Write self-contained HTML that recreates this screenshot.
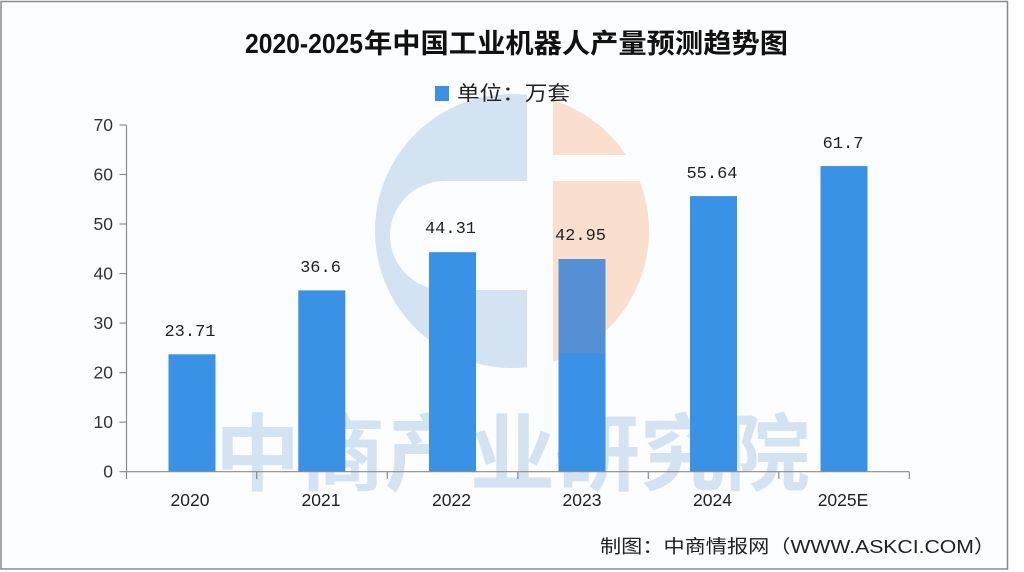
<!DOCTYPE html>
<html>
<head>
<meta charset="utf-8">
<style>
html,body{margin:0;padding:0;background:#ffffff;}
svg{display:block;}
</style>
</head>
<body>
<svg width="1024" height="572" viewBox="0 0 1024 572" xmlns="http://www.w3.org/2000/svg">
  <defs>
    <clipPath id="cBlue"><rect x="300" y="80" width="227" height="320"/></clipPath>
    <clipPath id="cOrange"><rect x="553" y="80" width="200" height="320"/></clipPath>
  </defs>
  <!-- background + frame -->
  <rect x="0" y="0" width="1024" height="572" fill="#ffffff"/>
  <rect x="1" y="1.5" width="1006.5" height="567.5" fill="#fcfdfe" stroke="#8a8a8a" stroke-width="1.5"/>

  <!-- logo watermark -->
  <g clip-path="url(#cBlue)">
    <circle cx="512" cy="231" r="137" fill="#d3e3f1"/>
  </g>
  <path d="M527,181 H445 A55,54.5 0 0 0 445,290 H527 Z" fill="#fcfdfe"/>
  <g clip-path="url(#cOrange)">
    <circle cx="512" cy="231" r="137" fill="#fadfcf"/>
  </g>
  <rect x="553" y="155" width="110" height="26" fill="#fcfdfe"/>

  <!-- text watermark -->
  <text x="215" y="484" font-family="'Liberation Sans','Noto Sans CJK SC',sans-serif" font-size="84" font-weight="700" fill="#d3e3f1" textLength="595" lengthAdjust="spacingAndGlyphs">中商产业研究院</text>

  <!-- title -->
  <text x="245" y="53" font-family="'Liberation Sans',sans-serif" font-size="28" font-weight="700" fill="#111" textLength="118" lengthAdjust="spacingAndGlyphs">2020-2025</text>
  <text x="364" y="53" font-family="'Liberation Sans','Noto Sans CJK SC',sans-serif" font-size="27" font-weight="700" fill="#111" textLength="424" lengthAdjust="spacingAndGlyphs">年中国工业机器人产量预测趋势图</text>

  <!-- legend -->
  <rect x="435" y="86" width="14" height="15" fill="#3a92e6"/>
  <text x="457" y="100" font-family="'Liberation Sans','Noto Sans CJK SC',sans-serif" font-size="20" fill="#222" textLength="113" lengthAdjust="spacingAndGlyphs">单位：万套</text>

  <!-- y axis -->
  <g stroke="#8c8c8c" stroke-width="1.2" fill="none">
    <line x1="126.5" y1="125" x2="126.5" y2="472"/>
    <line x1="119.5" y1="125" x2="126.5" y2="125"/>
    <line x1="119.5" y1="174.5" x2="126.5" y2="174.5"/>
    <line x1="119.5" y1="224" x2="126.5" y2="224"/>
    <line x1="119.5" y1="273.6" x2="126.5" y2="273.6"/>
    <line x1="119.5" y1="323.1" x2="126.5" y2="323.1"/>
    <line x1="119.5" y1="372.6" x2="126.5" y2="372.6"/>
    <line x1="119.5" y1="422.2" x2="126.5" y2="422.2"/>
    <line x1="119.5" y1="471.7" x2="126.5" y2="471.7"/>
  </g>
  <g font-family="'Liberation Sans',sans-serif" font-size="17.5" fill="#333" text-anchor="end">
    <text x="113" y="131">70</text>
    <text x="113" y="180.5">60</text>
    <text x="113" y="230">50</text>
    <text x="113" y="279.6">40</text>
    <text x="113" y="329.1">30</text>
    <text x="113" y="378.6">20</text>
    <text x="113" y="428.2">10</text>
    <text x="113" y="477.7">0</text>
  </g>

  <!-- bars -->
  <g fill="#3a92e6">
    <rect x="168.5" y="354.3" width="47" height="117.4"/>
    <rect x="298.3" y="290.4" width="47" height="181.3"/>
    <rect x="429" y="252.2" width="47" height="219.5"/>
    <rect x="558.5" y="259" width="47" height="212.7"/>
    <rect x="690" y="196.1" width="47" height="275.6"/>
    <rect x="820.5" y="166.1" width="47" height="305.6"/>
  </g>
  <!-- orange-tinted part of 2023 bar -->
  <rect x="558.5" y="259" width="47" height="94" fill="#5590d4"/>

  <!-- x axis -->
  <g stroke="#8c8c8c" stroke-width="1.2" fill="none">
    <line x1="126" y1="471.7" x2="909.3" y2="471.7"/>
    <line x1="126.5" y1="471.7" x2="126.5" y2="479"/>
    <line x1="256.7" y1="471.7" x2="256.7" y2="479"/>
    <line x1="387.3" y1="471.7" x2="387.3" y2="479"/>
    <line x1="517.8" y1="471.7" x2="517.8" y2="479"/>
    <line x1="648.3" y1="471.7" x2="648.3" y2="479"/>
    <line x1="778.8" y1="471.7" x2="778.8" y2="479"/>
    <line x1="909.3" y1="471.7" x2="909.3" y2="479"/>
  </g>
  <g font-family="'Liberation Sans',sans-serif" font-size="17.5" fill="#222" text-anchor="middle">
    <text x="190" y="506">2020</text>
    <text x="321" y="506">2021</text>
    <text x="451.5" y="506">2022</text>
    <text x="582" y="506">2023</text>
    <text x="712.5" y="506">2024</text>
    <text x="843" y="506">2025E</text>
  </g>

  <!-- data labels -->
  <g font-family="'Liberation Mono',monospace" font-size="17" fill="#222" text-anchor="middle">
    <text x="190" y="336">23.71</text>
    <text x="320.5" y="272">36.6</text>
    <text x="450.5" y="233">44.31</text>
    <text x="580.5" y="240">42.95</text>
    <text x="712" y="178">55.64</text>
    <text x="843" y="148">61.7</text>
  </g>

  <!-- footer -->
  <text x="600" y="553" font-family="'Liberation Sans','Noto Sans CJK SC',sans-serif" font-size="18.5" fill="#222" textLength="395" lengthAdjust="spacingAndGlyphs">制图：中商情报网（WWW.ASKCI.COM）</text>
</svg>
</body>
</html>
